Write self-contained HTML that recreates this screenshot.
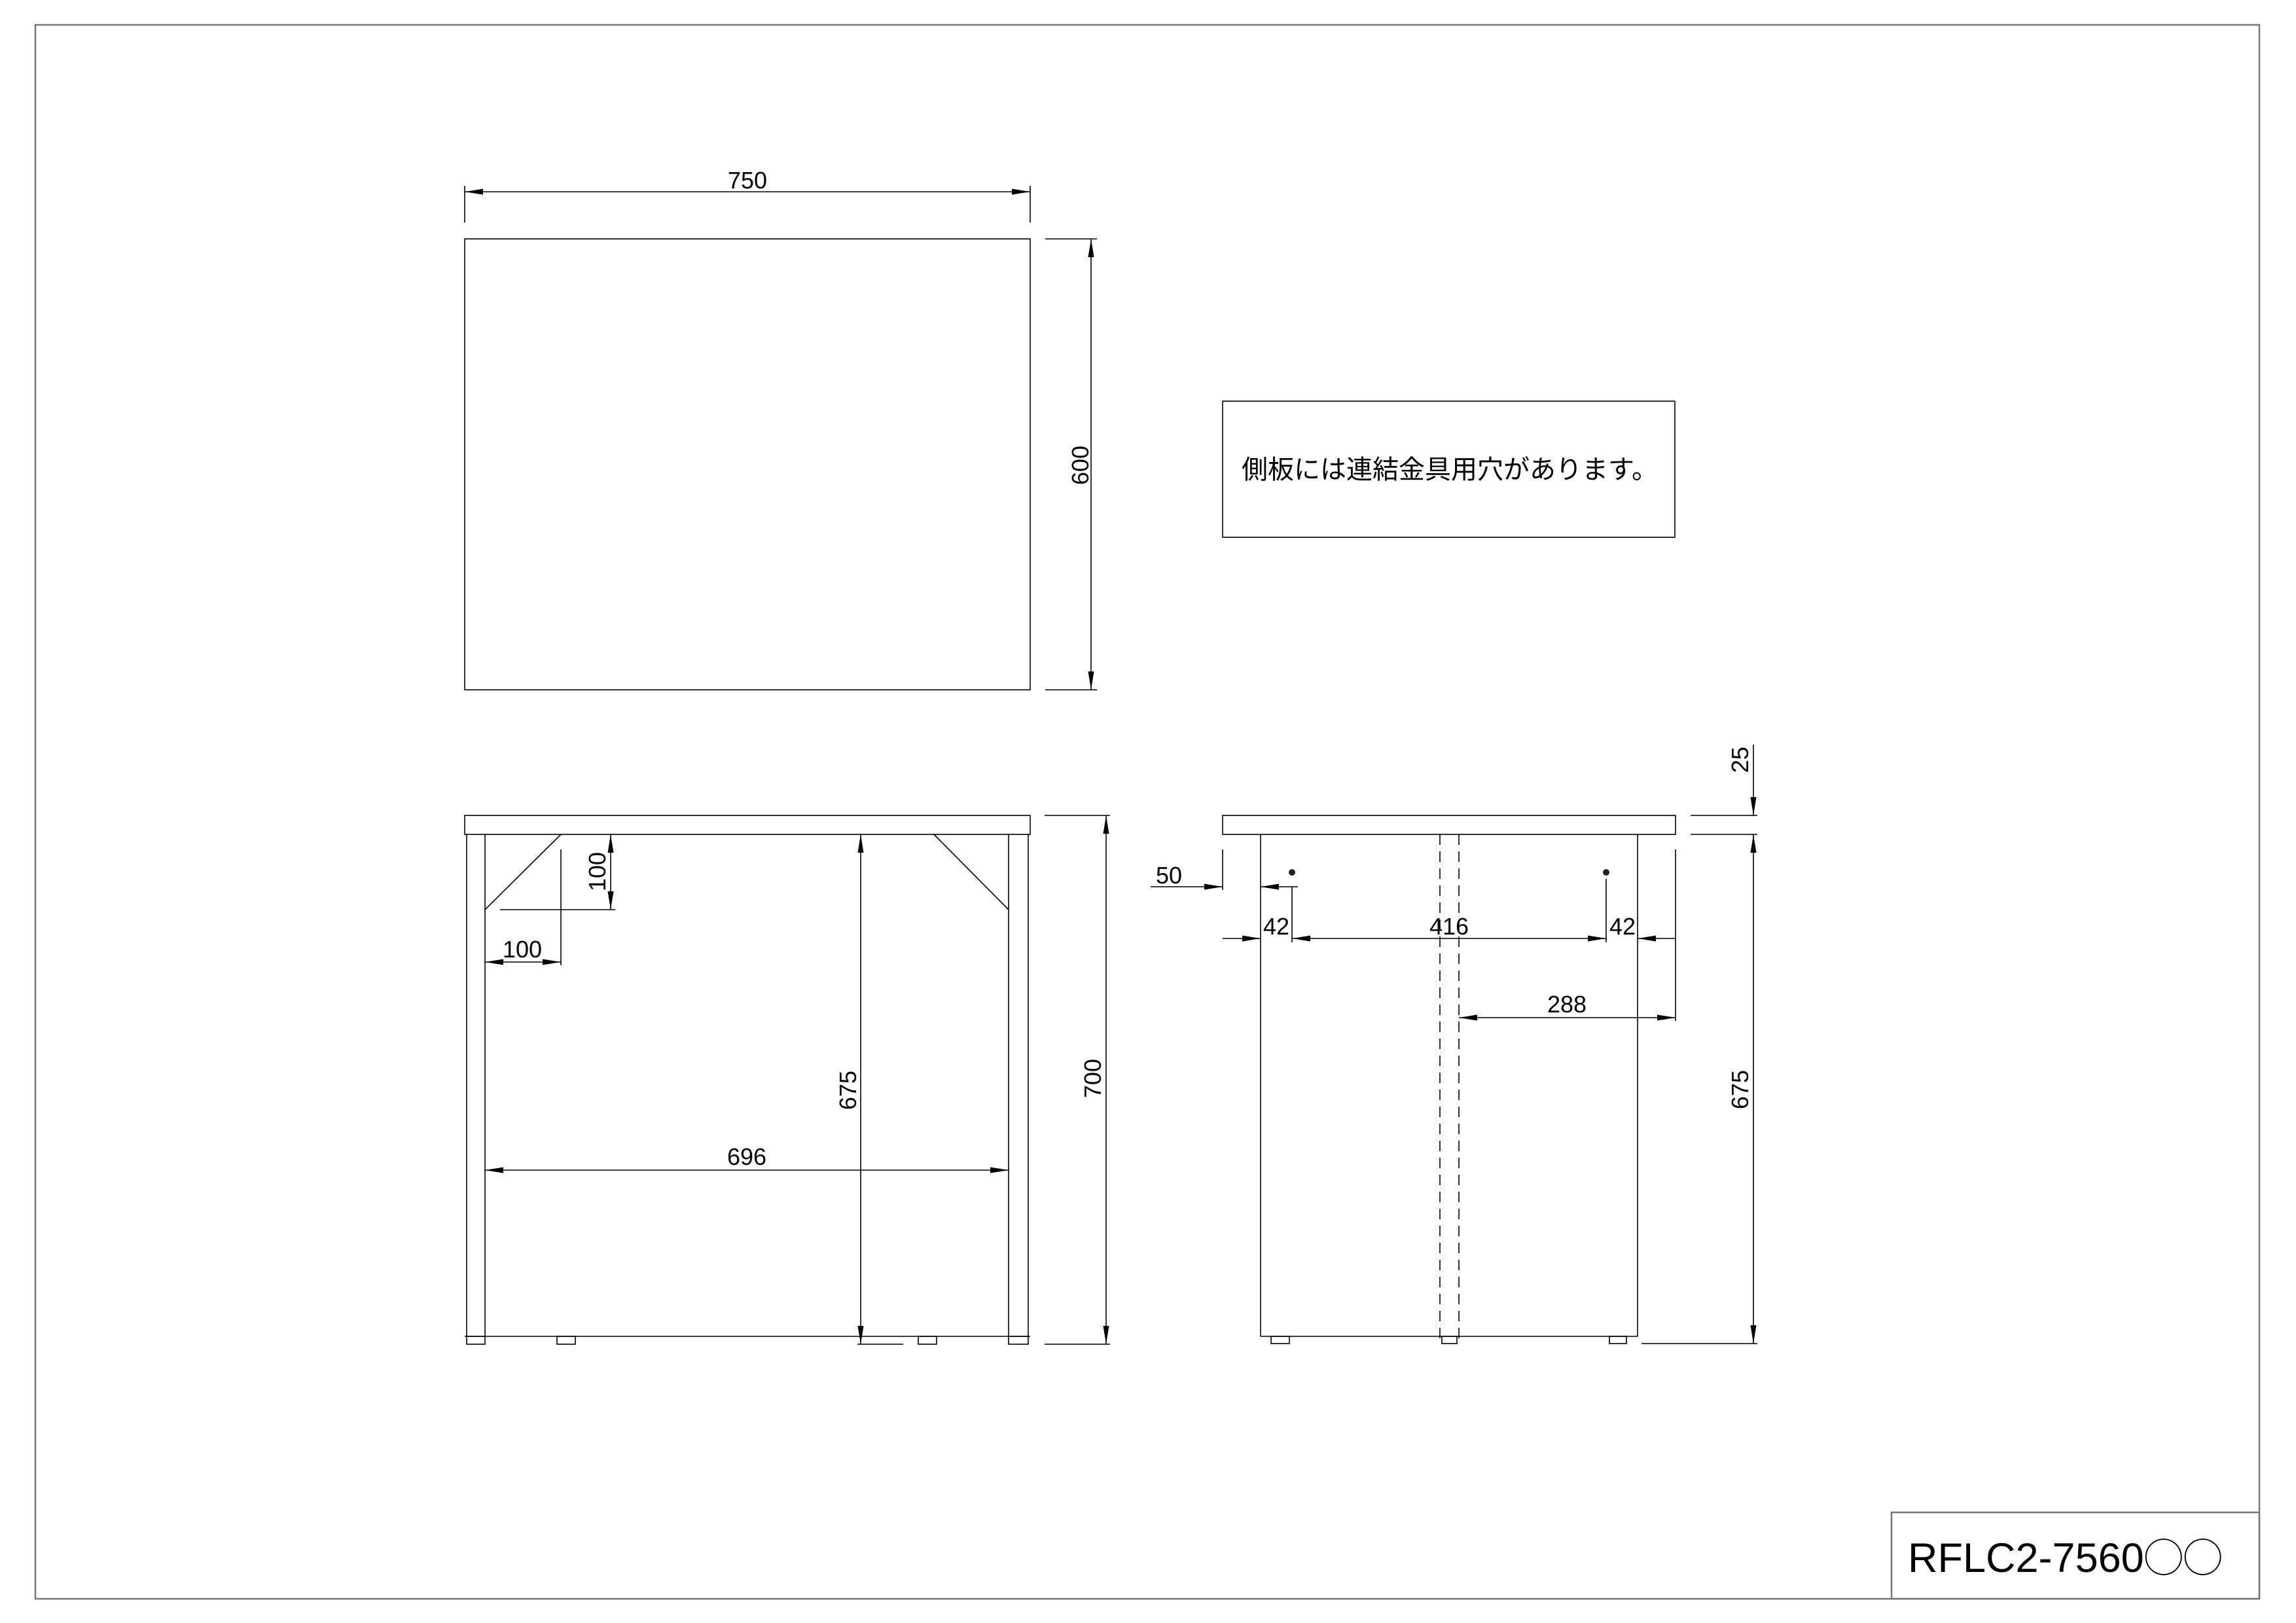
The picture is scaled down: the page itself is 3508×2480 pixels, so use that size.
<!DOCTYPE html>
<html><head><meta charset="utf-8"><style>
html,body{margin:0;padding:0;background:#fff}
svg{display:block}
text{font-family:"Liberation Sans","Noto Sans CJK JP",sans-serif;fill:#000}
</style></head><body>
<svg width="3508" height="2480" viewBox="0 0 3508 2480" xmlns="http://www.w3.org/2000/svg">
<defs>
<marker id="a" markerUnits="userSpaceOnUse" markerWidth="30" markerHeight="12" refX="28" refY="5" orient="auto-start-reverse" viewBox="0 0 30 10">
<path d="M0,0.5 L28,5 L0,9.5 Z" fill="#000"/>
</marker>
</defs>
<g fill="none" stroke="#777" stroke-width="2.5">
<rect x="54" y="38" width="3398" height="2405"/>
<rect x="2890" y="2311" width="562" height="132"/>
</g>
<text x="2915" y="2402" font-size="63">RFLC2-7560<tspan font-family="'Noto Sans CJK JP',sans-serif" font-size="60">◯◯</tspan></text>

<g fill="none" stroke="#000" stroke-width="1.6">
<rect x="710" y="365" width="864" height="689"/>
<line x1="710" y1="284" x2="710" y2="340"/>
<line x1="1574" y1="284" x2="1574" y2="340"/>
<line x1="710" y1="293" x2="1574" y2="293" marker-start="url(#a)" marker-end="url(#a)"/>
<line x1="1597" y1="365" x2="1676" y2="365"/>
<line x1="1597" y1="1054" x2="1676" y2="1054"/>
<line x1="1667" y1="365" x2="1667" y2="1054" marker-start="url(#a)" marker-end="url(#a)"/>
<rect x="1868" y="613" width="691" height="208"/>

<rect x="710" y="1246" width="864" height="29"/>
<line x1="713" y1="1275" x2="713" y2="2042"/>
<line x1="741" y1="1275" x2="741" y2="2042"/>
<line x1="1541" y1="1275" x2="1541" y2="2042"/>
<line x1="1571" y1="1275" x2="1571" y2="2042"/>
<line x1="710" y1="2042" x2="1574" y2="2042"/>
<rect x="713" y="2042" width="28" height="12"/>
<rect x="851" y="2042" width="28" height="12"/>
<rect x="1403" y="2042" width="28" height="12"/>
<rect x="1541" y="2042" width="30" height="12"/>
<line x1="857" y1="1275" x2="741" y2="1390"/>
<line x1="1427" y1="1275" x2="1541" y2="1390"/>
<line x1="857" y1="1298" x2="857" y2="1475"/>
<line x1="764" y1="1390" x2="940" y2="1390"/>
<line x1="933" y1="1275" x2="933" y2="1390" marker-start="url(#a)" marker-end="url(#a)"/>
<line x1="741" y1="1470" x2="857" y2="1470" marker-start="url(#a)" marker-end="url(#a)"/>
<line x1="1315" y1="1275" x2="1315" y2="2054" marker-start="url(#a)" marker-end="url(#a)"/>
<line x1="1310" y1="2054" x2="1380" y2="2054"/>
<line x1="741" y1="1788" x2="1541" y2="1788" marker-start="url(#a)" marker-end="url(#a)"/>
<line x1="1596" y1="1246" x2="1696" y2="1246"/>
<line x1="1596" y1="2054" x2="1696" y2="2054"/>
<line x1="1690" y1="1246" x2="1690" y2="2054" marker-start="url(#a)" marker-end="url(#a)"/>

<rect x="1868" y="1246" width="692" height="29"/>
<line x1="1926" y1="1275" x2="1926" y2="2042"/>
<line x1="2502" y1="1275" x2="2502" y2="2042"/>
<line x1="1926" y1="2042" x2="2502" y2="2042"/>
<rect x="1942" y="2042" width="28" height="11"/>
<rect x="2203" y="2042" width="23" height="11"/>
<rect x="2459" y="2042" width="26" height="11"/>
<line x1="2200" y1="1275" x2="2200" y2="2053" stroke-dasharray="16,10"/>
<line x1="2229" y1="1275" x2="2229" y2="2053" stroke-dasharray="16,10"/>
<line x1="1868" y1="1298" x2="1868" y2="1360"/>
<line x1="1758" y1="1355" x2="1868" y2="1355" marker-end="url(#a)"/>
<line x1="1983" y1="1355" x2="1926" y2="1355" marker-end="url(#a)"/>
<line x1="1974" y1="1355" x2="1974" y2="1440"/>
<line x1="2454" y1="1343" x2="2454" y2="1440"/>
<line x1="2560" y1="1298" x2="2560" y2="1560"/>
<line x1="1868" y1="1434" x2="1926" y2="1434" marker-end="url(#a)"/>
<line x1="1974" y1="1434" x2="2454" y2="1434" marker-start="url(#a)" marker-end="url(#a)"/>
<line x1="2560" y1="1434" x2="2502" y2="1434" marker-end="url(#a)"/>
<line x1="2229" y1="1555" x2="2560" y2="1555" marker-start="url(#a)" marker-end="url(#a)"/>
<line x1="2583" y1="1246" x2="2685" y2="1246"/>
<line x1="2583" y1="1275" x2="2685" y2="1275"/>
<line x1="2679" y1="1138" x2="2679" y2="1246" marker-end="url(#a)"/>
<line x1="2679" y1="1275" x2="2679" y2="2053" marker-start="url(#a)" marker-end="url(#a)"/>
<line x1="2508" y1="2053" x2="2685" y2="2053"/>
</g>
<circle cx="1974" cy="1333" r="5" fill="#222"/>
<circle cx="2454" cy="1333" r="5" fill="#222"/>

<g font-size="36" text-anchor="middle">
<text x="1142" y="288">750</text>
<text transform="translate(1663 711) rotate(-90)" y="0">600</text>
<text x="2215" y="731" font-size="40">側板には連結金具用穴があります。</text>
<text transform="translate(925 1332) rotate(-90)">100</text>
<text x="798" y="1463">100</text>
<text transform="translate(1308 1666) rotate(-90)">675</text>
<text x="1141" y="1780">696</text>
<text transform="translate(1682 1648) rotate(-90)">700</text>
<text x="1786" y="1350">50</text>
<text x="1950" y="1428">42</text>
<text x="2214" y="1428">416</text>
<text x="2479" y="1428">42</text>
<text x="2394" y="1547">288</text>
<text transform="translate(2671 1161) rotate(-90)">25</text>
<text transform="translate(2671 1665) rotate(-90)">675</text>
</g>
</svg>
</body></html>
